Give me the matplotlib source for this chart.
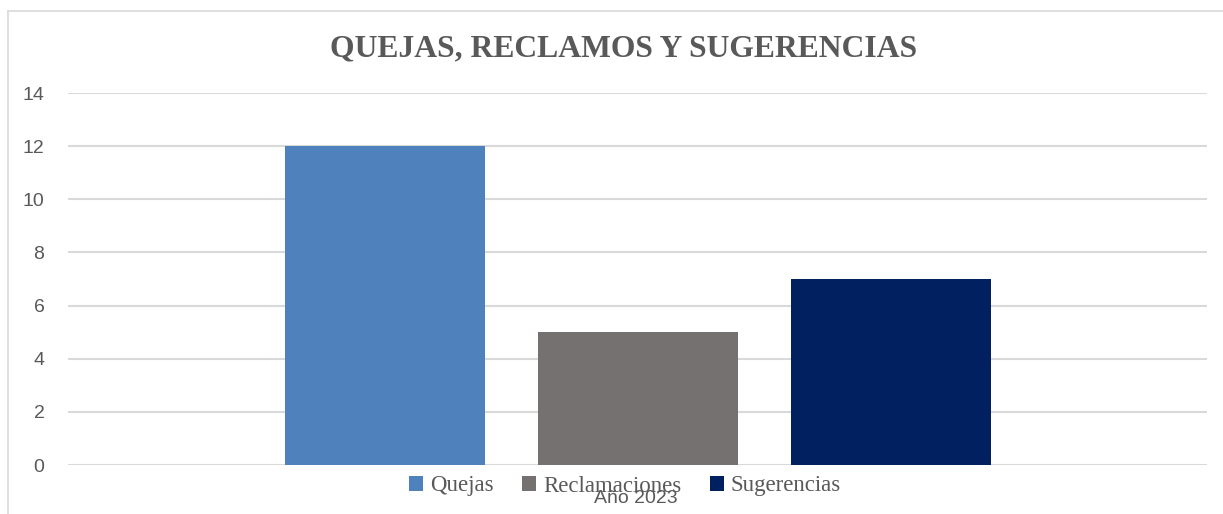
import matplotlib.pyplot as plt
from matplotlib.lines import Line2D

# Datos del gráfico
categoria = "Año 2023"
series = ["Quejas", "Reclamaciones", "Sugerencias"]
valores = [12, 5, 7]
colores = ["#4F81BD", "#767171", "#002060"]
yticks = [0, 2, 4, 6, 8, 10, 12, 14]

W, H = 1223, 514
fig = plt.figure(figsize=(W / 100, H / 100), dpi=100)
ax = fig.add_axes([68 / W, 1 - 465 / H, (1207 - 68) / W, (465 - 93) / H])

ancho = 200 / 1139
paso = 253 / 1139
barras = []
for i, (s, v, c) in enumerate(zip(series, valores, colores)):
    b = ax.bar((i - 1) * paso, v, width=ancho, color=c, label=s, zorder=3)
    barras.append(b)

ax.set_xlim(-0.5, 0.5)
ax.set_ylim(0, 14)
ax.set_yticks(yticks)
ax.set_xticks([])
ax.grid(axis="y", color="#D9D9D9", linewidth=1.5, zorder=0)
for s in ax.spines.values():
    s.set_visible(False)
ax.tick_params(axis="y", length=0, pad=17, labelsize=14, labelcolor="#595959")
for t in ax.get_yticklabels():
    t.set_fontfamily("Liberation Sans")

# Título
fig.text(624 / W, 1 - 56 / H, "QUEJAS, RECLAMOS Y SUGERENCIAS",
         ha="center", va="baseline", fontsize=22.8, fontweight="bold",
         color="#595959", family="Liberation Serif")

# Leyenda
fig.legend(handles=[b[0] for b in barras], labels=series, loc="center",
           bbox_to_anchor=(625 / W, 1 - 486 / H), ncol=3, frameon=False,
           prop={"family": "Liberation Serif", "size": 16.5},
           labelcolor="#595959", handlelength=0.6, handleheight=0.6,
           handletextpad=0.3, columnspacing=1.25, borderpad=0)

# Etiqueta del eje X (se superpone a la leyenda como en el original)
fig.text(636 / W, 1 - 503 / H, categoria, ha="center", va="baseline",
         fontsize=14, color="#595959", family="Liberation Sans")

# Borde del gráfico
fig.add_artist(Line2D([8 / W, 8 / W], [0, 1 - 11 / H], transform=fig.transFigure,
                      color="#D9D9D9", linewidth=1.2))
fig.add_artist(Line2D([8 / W, 1], [1 - 11 / H, 1 - 11 / H], transform=fig.transFigure,
                      color="#D9D9D9", linewidth=1.2))

fig.savefig("out.png", dpi=100)
